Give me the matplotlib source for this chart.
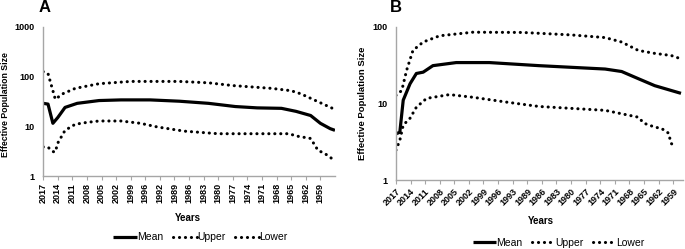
import numpy as np
import matplotlib.pyplot as plt

plt.rcParams['font.family'] = ['Liberation Sans', 'DejaVu Sans']

# tick labels (every third category)
labels_a = ['2017', '2014', '2011', '2008', '2005', '2002', '1999', '1996', '1992', '1989',
            '1986', '1983', '1980', '1977', '1974', '1971', '1968', '1965', '1962', '1959']
labels_b = ['2017', '2014', '2011', '2008', '2005', '2002', '1999', '1996', '1993', '1989',
            '1986', '1983', '1980', '1977', '1974', '1971', '1968', '1965', '1962', '1959']

# panel A (category index, value)
mean_a_x = [0, 1, 2, 3, 4.5, 7, 11.5, 16, 22, 28, 34, 39.5, 44, 49, 52, 55, 57, 59, 60]
mean_a_y = [29, 28, 11.5, 15, 24, 29, 33, 34, 34, 32, 29, 25, 23.5, 23, 20, 16.5, 11.5, 9, 8.3]
upper_a_x = [0, 1, 2.5, 4, 6.6, 11.5, 18, 28, 34, 39, 47, 51, 53, 56, 59.5]
upper_a_y = [126, 115, 35, 45, 58, 72, 80, 80, 75, 66, 58, 52, 45, 33, 23]
lower_a_x = [0, 1, 2, 2.5, 3, 4.5, 6.6, 9, 11.5, 16, 20, 23.5, 29, 36, 44, 50.6, 52, 55, 56.5, 58, 59.5]
lower_a_y = [3.85, 3.8, 3.1, 3.06, 4.6, 8.3, 11, 12, 12.8, 12.8, 11.5, 9.7, 8.0, 7.1, 7.1, 7.1, 6.4, 5.7, 3.3, 2.8, 2.2]

# panel B
mean_b_x = [0, 0.8, 1.5, 2.9, 4.2, 5.6, 7.6, 12.4, 19.2, 29.4, 43, 46.4, 49.8, 53.2, 56.6, 58.6]
mean_b_y = [4.0, 4.2, 11, 18, 24.5, 25.5, 31, 34, 34, 31, 28, 26, 21, 17, 14.7, 13.5]
upper_b_x = [0, 1.2, 2.2, 3.5, 5.6, 9, 15.8, 26, 36, 43, 46.4, 49.8, 53, 56.6, 58.6]
upper_b_y = [12.7, 14.7, 27, 49, 63, 76, 84.6, 84, 78, 72, 63, 49, 45, 42, 38]
lower_b_x = [0, 0.8, 1.5, 2.9, 4.2, 6.3, 11, 15.8, 22.6, 29.4, 43, 49.8, 51, 53.2, 54.6, 56, 56.6, 57.3]
lower_b_y = [2.45, 3.3, 5.2, 6.4, 8.9, 11.6, 13, 12, 10.4, 9.1, 8.1, 6.6, 5.5, 4.9, 4.7, 4.1, 3.0, 2.7]

fig = plt.figure(figsize=(6.85, 2.49), dpi=100)
ax_a = fig.add_axes([0.063, 0.293, 0.426, 0.599])
ax_b = fig.add_axes([0.578, 0.277, 0.419, 0.616])

dots = (0, (0.05, 1.9))


def draw(ax, mx, my, ux, uy, lx, ly, labels, xmax, ymax, rot, ylab_size):
    ax.plot(mx, my, color='black', lw=2.3, label='Mean', solid_capstyle='butt')
    ax.plot(ux, uy, color='black', lw=2.2, ls=dots, dash_capstyle='round', label='Upper')
    ax.plot(lx, ly, color='black', lw=2.2, ls=dots, dash_capstyle='round', label='Lower')
    ax.set_yscale('log')
    ax.set_ylim(1, ymax)
    ax.set_xlim(0, xmax)
    ax.set_yticks([v for v in [1, 10, 100, 1000] if v <= ymax])
    ax.set_yticklabels([str(v) for v in [1, 10, 100, 1000] if v <= ymax],
                       fontsize=6.5, fontweight='bold')
    ax.minorticks_off()
    ax.tick_params(axis='y', length=0, pad=6)
    ax.set_xticks(np.arange(0, 3 * len(labels), 3))
    if rot == 90:
        ax.set_xticklabels(labels, rotation=90, fontsize=6.5, fontweight='bold')
    else:
        ax.set_xticklabels(labels, rotation=45, ha='right', rotation_mode='anchor',
                           fontsize=6.5, fontweight='bold')
    ax.tick_params(axis='x', length=3, color='#a6a6a6', pad=2)
    for s in ['top', 'right']:
        ax.spines[s].set_visible(False)
    for s in ['left', 'bottom']:
        ax.spines[s].set_color('#a6a6a6')
        ax.spines[s].set_linewidth(1.0)
    ax.set_ylabel('Effective Population Size', fontsize=ylab_size, fontweight='bold')
    ax.set_xlabel('Years', fontsize=7, fontweight='bold')


draw(ax_a, mean_a_x, mean_a_y, upper_a_x, upper_a_y, lower_a_x, lower_a_y,
     labels_a, 60, 1000, 90, 6.3)
draw(ax_b, mean_b_x, mean_b_y, upper_b_x, upper_b_y, lower_b_x, lower_b_y,
     labels_b, 59, 100, 45, 6.8)

ax_a.yaxis.set_label_coords(-0.113, 0.48)
ax_b.yaxis.set_label_coords(-0.10, 0.5)
ax_a.xaxis.set_label_coords(0.497, -0.248)
ax_b.xaxis.set_label_coords(0.505, -0.235)

ax_a.legend(loc='center', bbox_to_anchor=(0.538, -0.41), ncol=3, frameon=False,
            fontsize=7.5, handlelength=2.3, handletextpad=0.05, columnspacing=0.9)
ax_b.legend(loc='center', bbox_to_anchor=(0.568, -0.41), ncol=3, frameon=False,
            fontsize=7.5, handlelength=2.2, handletextpad=0.05, columnspacing=0.9)

fig.text(0.056, 0.968, 'A', fontsize=12, fontweight='bold', va='center')
fig.text(0.569, 0.968, 'B', fontsize=12, fontweight='bold', va='center')

fig.savefig('out.png', dpi=100)
